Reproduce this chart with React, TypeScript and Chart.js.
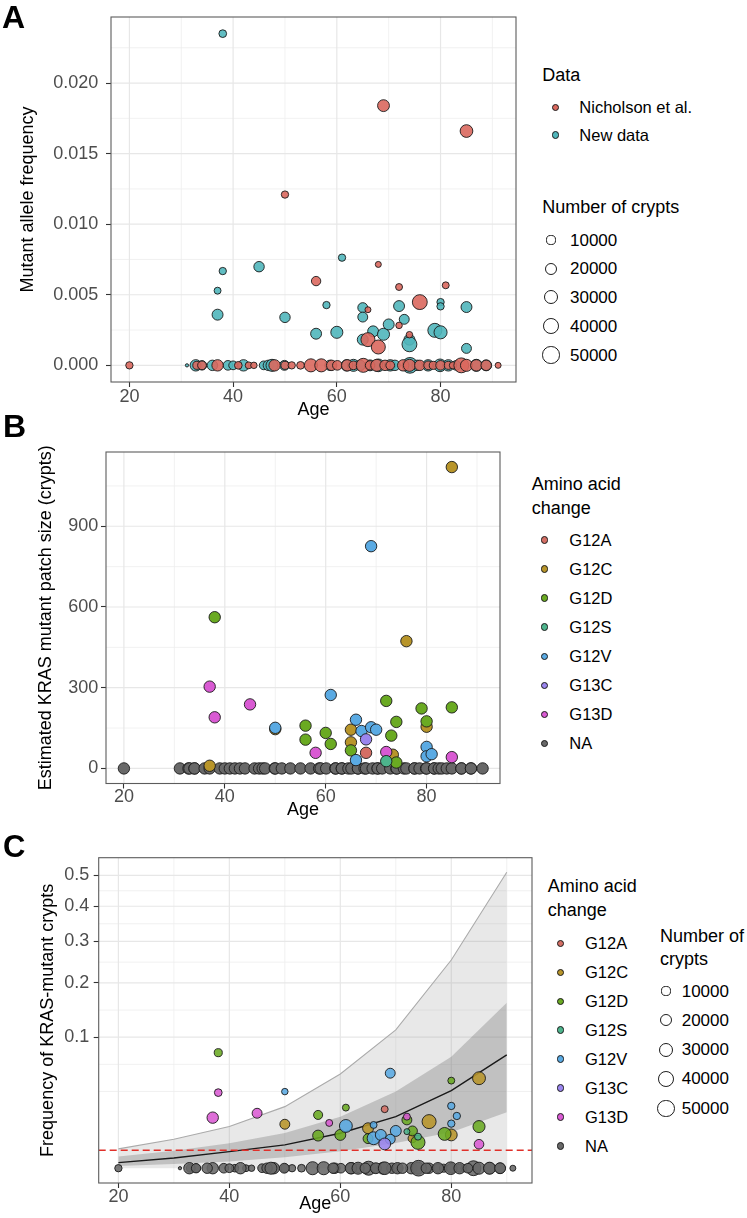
import React, { useEffect, useRef } from 'react';
import { Chart, registerables } from 'chart.js';

Chart.register(...registerables);

const FONT = "'Liberation Sans', Arial, Helvetica, sans-serif";

// ---------- shared axis data ----------
const ageBreaks = [20, 40, 60, 80];
const ageLimits = [16.45, 94.55];
const cryptBreaks = [10000, 20000, 30000, 40000, 50000];

// ---------- Panel A ----------
const mafBreaks = [0, 0.005, 0.01, 0.015, 0.02];
const mafLabels = ['0.000', '0.005', '0.010', '0.015', '0.020'];
const mafLimits = [-0.00118, 0.02468];
const sourceNames = ['Nicholson et al.', 'New data'];
// [age, mutant allele frequency, number of crypts]
const nicholsonMutant = [
  [69, 0.0184, 24000], [85, 0.0166, 28000], [50, 0.0121, 8000], [56, 0.00597, 14000],
  [68, 0.00715, 5000], [72, 0.00555, 7000], [81, 0.00567, 7000], [76, 0.00448, 40000],
  [66, 0.00394, 5000], [72, 0.00283, 6000], [74, 0.00217, 6000], [66, 0.00182, 35000],
  [68, 0.0013, 35000],
];
const newDataMutant = [
  [38, 0.0235, 9000], [38, 0.00668, 8000], [37, 0.00529, 7000], [37, 0.00359, 20000],
  [45, 0.00699, 18000], [50, 0.0034, 18000], [61, 0.00763, 8000], [58, 0.00427, 8000],
  [56, 0.00224, 20000], [60, 0.00234, 25000], [65, 0.00409, 16000], [65, 0.00342, 16000],
  [67, 0.00241, 20000], [69, 0.0022, 25000], [70, 0.0029, 20000], [72, 0.0042, 20000],
  [73, 0.00326, 16000], [74, 0.00182, 20000], [74, 0.00149, 40000], [65, 0.00182, 20000],
  [80, 0.00448, 8000], [80, 0.00418, 8000], [78.9, 0.00248, 35000], [80, 0.00234, 30000],
  [85, 0.00413, 20000], [85, 0.0012, 16000],
];
// [age, number of crypts] for samples with no detected mutation
const nicholsonZero = [
  [20, 8000], [33, 10000], [34, 12000], [37, 22000], [41, 9000], [43, 7000], [44, 6000],
  [48, 22000], [50, 10000], [51.3, 8000], [53, 9000], [55, 30000], [57, 30000], [59, 18000],
  [60.1, 15000], [62, 22000], [63.2, 12000], [65.1, 35000], [66.4, 14000], [67.7, 25000],
  [69.3, 18000], [70.3, 12000], [72.8, 22000], [74, 25000], [76, 18000], [77.6, 12000],
  [78.6, 10000], [80, 15000], [81.5, 10000], [82.4, 8000], [84, 40000], [85, 25000],
  [86.9, 22000], [88.8, 18000], [91.1, 5000],
];
const newDataZero = [
  [31.1, 1500], [32.8, 22000], [34, 14000], [36, 18000], [39, 15000], [40, 12000], [42, 22000],
  [45.9, 12000], [46.8, 18000], [47.5, 25000], [49.9, 16000], [58.7, 18000], [61.9, 22000],
  [63.2, 25000], [64.5, 18000], [66.4, 20000], [68, 28000], [70.3, 22000], [71.2, 18000],
  [74.1, 45000], [75.5, 18000], [77.6, 22000], [79.9, 28000], [81.5, 22000], [83, 15000],
  [86.9, 25000], [88.8, 20000],
];

// ---------- Panel B ----------
const patchBreaks = [0, 300, 600, 900];
const patchLimits = [-56, 1176];
const aminoAcidChanges = ['G12A', 'G12C', 'G12D', 'G12S', 'G12V', 'G13C', 'G13D', 'NA'];
// [age, estimated patch size (crypts)]
const patchG12A = [[68, 58]];
const patchG12C = [[85, 1120], [76, 473], [50, 146], [65, 144], [65, 97], [73.3, 51], [80, 155], [37, 10]];
const patchG12D = [[38, 562], [56, 159], [56, 107], [60, 132], [61, 91], [65, 67], [72, 251], [73, 122], [74, 173], [74, 22], [79, 223], [80, 175], [85, 227]];
const patchG12S = [[72, 27]];
const patchG12V = [[69, 826], [50, 151], [61, 273], [66, 181], [66, 31], [67.1, 139], [69, 153], [70, 144], [80, 80], [80, 45], [81, 53]];
const patchG13C = [[68, 108]];
const patchG13D = [[37, 304], [38, 190], [45, 238], [58, 58], [72, 61], [85, 42]];

// ---------- Panel C ----------
const freqBreaks = [0.1, 0.2, 0.3, 0.4, 0.5];
const freqLabels = ['0.1', '0.2', '0.3', '0.4', '0.5'];
const freqLimitsSqrt = [-0.0357, 0.7496];
const modelAges = [20, 30, 40, 50, 60, 70, 80, 90];
const modelMean = [0.00018, 0.0006, 0.0016, 0.00316, 0.00714, 0.0155, 0.0351, 0.0748];
const modelInnerLow = [0.00003, 0.0001, 0.00027, 0.0007, 0.0017, 0.0037, 0.0075, 0.0183];
const modelInnerHigh = [0.0008, 0.0018, 0.0036, 0.0072, 0.0155, 0.0342, 0.0725, 0.1597];
const modelOuterHigh = [0.00217, 0.0049, 0.0101, 0.0221, 0.0518, 0.1114, 0.2527, 0.5102];
const detectionLimit = 0.00189;
// [age, frequency of mutant crypts, number of crypts]
const freqG12A = [[68, 0.0203, 7000]];
const freqG12C = [[50, 0.01127, 16000], [65, 0.0093, 20000], [73, 0.0052, 12000], [76, 0.01265, 35000], [80, 0.00646, 24000], [85, 0.0472, 29000]];
const freqG12D = [[38, 0.0778, 10000], [56, 0.01654, 13000], [56, 0.0062, 20000], [61, 0.0214, 7000], [60, 0.00646, 20000], [72, 0.0136, 16000], [65, 0.0051, 16000], [73, 0.0081, 16000], [74, 0.0039, 35000], [80, 0.0447, 7000], [78.8, 0.00685, 29000], [85, 0.0101, 25000]];
const freqG12S = [[72, 0.0078, 5000], [74, 0.0058, 7000]];
const freqG12V = [[50, 0.0342, 6000], [61, 0.0104, 29000], [69, 0.0526, 16000], [66, 0.0109, 7000], [70, 0.0081, 20000], [66, 0.00524, 29000], [67.3, 0.00646, 20000], [69, 0.0049, 16000], [80, 0.0226, 8000], [81, 0.0159, 8000], [80, 0.01158, 8000]];
const freqG13C = [[68, 0.00344, 24000]];
const freqG13D = [[38, 0.0333, 9000], [37, 0.0149, 22000], [45, 0.0176, 16000], [58, 0.01195, 7000], [72, 0.0155, 7000], [85, 0.00335, 15000]];

// ---------- styles ----------
const NICHOLSON_COLOR = '#DA685E';
const NEWDATA_COLOR = '#50B6BB';
const CHANGE_COLORS = ['#D46E64', '#B8952A', '#6AAA22', '#4DB48C', '#5AAAE3', '#9A85EE', '#D95AD3', '#686868'];
const EDGE = '#1a1a1a';
const TICK_SIZE = 18;
const TITLE_SIZE = 18;

function withAlpha(hex: string, a: number) {
  const n = parseInt(hex.slice(1), 16);
  return `rgba(${(n >> 16) & 255},${(n >> 8) & 255},${n & 255},${a})`;
}

function cryptRadius(c: number) {
  return 0.9 + 7.7 * Math.sqrt(Math.max(0, c - 1000) / 54000);
}

// ggplot-style minor breaks: midpoints between (extended) major breaks
function minorBreaks(b: number[], lim: number[]) {
  const bd = b[1] - b[0];
  const bb = [...b];
  if (lim[0] < bb[0]) bb.unshift(bb[0] - bd);
  if (lim[1] > bb[bb.length - 1]) bb.push(bb[bb.length - 1] + bd);
  const out: number[] = [];
  for (let i = 0; i < bb.length - 1; i++) out.push((bb[i] + bb[i + 1]) / 2);
  out.push(...bb);
  return out.filter((v) => v > lim[0] && v < lim[1] && !b.some((m) => Math.abs(m - v) < 1e-9));
}

function panelPlugin(grid: { xMajor: number[]; xMinor: number[]; yMajor: number[]; yMinor: number[] }) {
  return {
    id: 'panelDecor',
    beforeDatasetsDraw(chart: any) {
      const { ctx, chartArea: a, scales } = chart;
      ctx.save();
      ctx.beginPath();
      ctx.rect(a.left, a.top, a.right - a.left, a.bottom - a.top);
      ctx.clip();
      const draw = (vals: number[], vertical: boolean, w: number, col: string) => {
        ctx.lineWidth = w;
        ctx.strokeStyle = col;
        vals.forEach((v) => {
          ctx.beginPath();
          if (vertical) {
            const p = scales.x.getPixelForValue(v);
            ctx.moveTo(p, a.top);
            ctx.lineTo(p, a.bottom);
          } else {
            const p = scales.y.getPixelForValue(v);
            ctx.moveTo(a.left, p);
            ctx.lineTo(a.right, p);
          }
          ctx.stroke();
        });
      };
      draw(grid.xMinor, true, 0.8, '#eeeeee');
      draw(grid.yMinor, false, 0.8, '#eeeeee');
      draw(grid.xMajor, true, 1.2, '#e7e7e7');
      draw(grid.yMajor, false, 1.2, '#e7e7e7');
      ctx.restore();
    },
    afterDatasetsDraw(chart: any) {
      const { ctx, chartArea: a } = chart;
      ctx.save();
      ctx.strokeStyle = '#5c5c5c';
      ctx.lineWidth = 1.1;
      ctx.strokeRect(a.left, a.top, a.right - a.left, a.bottom - a.top);
      ctx.restore();
    },
  };
}

function ageAxis(height: number, tickPad: number, titlePad: number) {
  return {
    type: 'linear',
    position: 'bottom',
    min: ageLimits[0],
    max: ageLimits[1],
    afterBuildTicks: (s: any) => {
      s.ticks = ageBreaks.map((v) => ({ value: v }));
    },
    afterFit: (s: any) => {
      s.height = height;
    },
    grid: { drawOnChartArea: false, drawTicks: true, tickLength: 5, tickColor: '#333333', tickWidth: 1.1 },
    border: { display: false },
    ticks: {
      color: '#4d4d4d',
      padding: tickPad,
      autoSkip: false,
      maxRotation: 0,
      font: { family: FONT, size: TICK_SIZE, lineHeight: 1 },
      callback: (v: number) => String(v),
    },
    title: {
      display: true,
      text: 'Age',
      color: '#000000',
      font: { family: FONT, size: TITLE_SIZE, lineHeight: 1 },
      padding: { top: 0, bottom: titlePad },
    },
  };
}

function valueAxis(o: { min: number; max: number; breaks: number[]; labels: string[]; width: number; tickPad: number; title: string; titlePad: number }) {
  return {
    type: 'linear',
    position: 'left',
    min: o.min,
    max: o.max,
    afterBuildTicks: (s: any) => {
      s.ticks = o.breaks.map((v) => ({ value: v }));
    },
    afterFit: (s: any) => {
      s.width = o.width;
    },
    grid: { drawOnChartArea: false, drawTicks: true, tickLength: 5, tickColor: '#333333', tickWidth: 1.1 },
    border: { display: false },
    ticks: {
      color: '#4d4d4d',
      padding: o.tickPad,
      autoSkip: false,
      font: { family: FONT, size: TICK_SIZE, lineHeight: 1 },
      callback: (_v: number, i: number) => o.labels[i],
    },
    title: {
      display: true,
      text: o.title,
      color: '#000000',
      font: { family: FONT, size: TITLE_SIZE, lineHeight: 1 },
      padding: { top: o.titlePad, bottom: 0 },
    },
  };
}

function pointSet(label: string, data: any[], color: string, alpha: number, order: number, fixedRadius?: number) {
  const radius = (ctx: any) => (fixedRadius ? fixedRadius : ctx.raw && ctx.raw.c ? cryptRadius(ctx.raw.c) : 3);
  return {
    label,
    data,
    order,
    showLine: false,
    pointBackgroundColor: withAlpha(color, alpha),
    pointBorderColor: EDGE,
    pointBorderWidth: 0.9,
    pointRadius: radius,
    pointHoverRadius: radius,
  };
}

const baseOptions = (padTop: number, padRight: number) => ({
  responsive: false,
  animation: false,
  events: [],
  layout: { padding: { left: 0, top: padTop, right: padRight, bottom: 0 } },
  plugins: { legend: { display: false }, tooltip: { enabled: false } },
});

function buildA() {
  const mut = (arr: number[][]) => arr.map(([x, y, c]) => ({ x, y, c }));
  const zero = (arr: number[][]) => arr.map(([x, c]) => ({ x, y: 0, c }));
  return {
    type: 'scatter',
    data: {
      datasets: [
        pointSet(sourceNames[1], zero(newDataZero), NEWDATA_COLOR, 0.9, 4),
        pointSet(sourceNames[0], zero(nicholsonZero), NICHOLSON_COLOR, 0.9, 3),
        pointSet(sourceNames[1], mut(newDataMutant), NEWDATA_COLOR, 0.9, 2),
        pointSet(sourceNames[0], mut(nicholsonMutant), NICHOLSON_COLOR, 0.9, 1),
      ],
    },
    options: {
      ...baseOptions(17, 14),
      scales: {
        x: ageAxis(48, 1.5, 10.5),
        y: valueAxis({ min: mafLimits[0], max: mafLimits[1], breaks: mafBreaks, labels: mafLabels, width: 111, tickPad: 7.7, title: 'Mutant allele frequency', titlePad: 19.3 }),
      },
    },
    plugins: [panelPlugin({ xMajor: ageBreaks, xMinor: minorBreaks(ageBreaks, ageLimits), yMajor: mafBreaks, yMinor: minorBreaks(mafBreaks, mafLimits) })],
  };
}

function buildB() {
  const groups = [patchG12A, patchG12C, patchG12D, patchG12S, patchG12V, patchG13C, patchG13D];
  const drawOrder = [3, 7, 6, 2, 4, 1, 5];
  const naAges = [...nicholsonZero, ...newDataZero].map(([a]) => a).sort((p, q) => p - q);
  const datasets: any[] = [
    pointSet('NA', naAges.map((x) => ({ x, y: 0 })), CHANGE_COLORS[7], 1, 10, 5.7),
  ];
  groups.forEach((g, i) => {
    datasets.push(pointSet(aminoAcidChanges[i], g.map(([x, y]) => ({ x, y })), CHANGE_COLORS[i], 1, drawOrder[i], 5.7));
  });
  return {
    type: 'scatter',
    data: { datasets },
    options: {
      ...baseOptions(22, 20),
      scales: {
        x: ageAxis(46.5, 0, 10.5),
        y: valueAxis({ min: patchLimits[0], max: patchLimits[1], breaks: patchBreaks, labels: patchBreaks.map(String), width: 106, tickPad: 2.7, title: 'Estimated KRAS mutant patch size (crypts)', titlePad: 37.3 }),
      },
    },
    plugins: [panelPlugin({ xMajor: ageBreaks, xMinor: minorBreaks(ageBreaks, ageLimits), yMajor: patchBreaks, yMinor: minorBreaks(patchBreaks, patchLimits) })],
  };
}

function buildC() {
  const sq = Math.sqrt;
  const curve = (vals: number[]) => modelAges.map((x, i) => ({ x, y: sq(vals[i]) }));
  const groups = [freqG12A, freqG12C, freqG12D, freqG12S, freqG12V, freqG13C, freqG13D];
  const drawOrder = [3, 7, 6, 2, 4, 1, 5];
  const naPoints = [...nicholsonZero, ...newDataZero].map(([x, c]) => ({ x, y: 0, c }));
  const line = (label: string, data: any[], extra: any) => ({
    label,
    data,
    showLine: true,
    pointRadius: 0,
    pointHoverRadius: 0,
    tension: 0,
    ...extra,
  });
  const datasets: any[] = [
    line('outer', curve(modelOuterHigh), { order: 30, borderColor: '#ababab', borderWidth: 1.1, fill: 'origin', backgroundColor: 'rgba(140,140,140,0.2)' }),
    line('innerHigh', curve(modelInnerHigh), { order: 29, borderWidth: 0, borderColor: 'rgba(0,0,0,0)', fill: '+1', backgroundColor: 'rgba(90,90,90,0.27)' }),
    line('innerLow', curve(modelInnerLow), { order: 28, borderWidth: 0, borderColor: 'rgba(0,0,0,0)', fill: false }),
    line('mean', curve(modelMean), { order: 27, borderColor: '#1a1a1a', borderWidth: 1.4, fill: false }),
    line('limit', ageLimits.map((x) => ({ x, y: sq(detectionLimit) })), { order: 26, borderColor: '#E0302A', borderWidth: 1.6, borderDash: [7, 4], fill: false }),
    pointSet('NA', naPoints, CHANGE_COLORS[7], 0.88, 20),
  ];
  groups.forEach((g, i) => {
    datasets.push(pointSet(aminoAcidChanges[i], g.map(([x, f, c]) => ({ x, y: sq(f), c })), CHANGE_COLORS[i], 0.88, drawOrder[i]));
  });
  const sqrtBreaks = freqBreaks.map(sq);
  return {
    type: 'scatter',
    data: { datasets },
    options: {
      ...baseOptions(27.7, 15),
      scales: {
        x: ageAxis(35, 0.5, 5.2),
        y: valueAxis({ min: freqLimitsSqrt[0], max: freqLimitsSqrt[1], breaks: sqrtBreaks, labels: freqLabels, width: 98.7, tickPad: 4.4, title: 'Frequency of KRAS-mutant crypts', titlePad: 39 }),
      },
    },
    plugins: [panelPlugin({ xMajor: ageBreaks, xMinor: minorBreaks(ageBreaks, ageLimits), yMajor: sqrtBreaks, yMinor: minorBreaks(sqrtBreaks, freqLimitsSqrt) })],
  };
}

function ChartCanvas(props: { left: number; top: number; width: number; height: number; build: () => any }) {
  const ref = useRef<HTMLCanvasElement>(null);
  useEffect(() => {
    const chart = new Chart(ref.current as HTMLCanvasElement, props.build());
    return () => chart.destroy();
  }, []);
  return (
    <canvas
      ref={ref}
      width={props.width}
      height={props.height}
      style={{ position: 'absolute', left: props.left, top: props.top, width: props.width, height: props.height }}
    />
  );
}

function Txt(props: { x: number; baseline: number; size: number; bold?: boolean; children: any }) {
  return (
    <div
      style={{
        position: 'absolute',
        left: props.x,
        top: props.baseline - 0.8465 * props.size,
        fontSize: props.size,
        lineHeight: `${props.size}px`,
        fontWeight: props.bold ? 700 : 400,
        whiteSpace: 'nowrap',
        color: '#000',
      }}
    >
      {props.children}
    </div>
  );
}

function Dot(props: { cx: number; cy: number; r: number; fill: string }) {
  const d = props.r * 2;
  return (
    <div
      style={{
        position: 'absolute',
        left: props.cx - props.r,
        top: props.cy - props.r,
        width: d,
        height: d,
        borderRadius: '50%',
        background: props.fill,
        border: `1px solid ${EDGE}`,
        boxSizing: 'border-box',
      }}
    />
  );
}

function ChangeLegend(props: { x: number; titleBaseline: number; y0: number; step: number; keyX: number; labelX: number }) {
  return (
    <>
      <Txt x={props.x} baseline={props.titleBaseline} size={18}>Amino acid</Txt>
      <Txt x={props.x} baseline={props.titleBaseline + 24} size={18}>change</Txt>
      {aminoAcidChanges.map((name, i) => (
        <React.Fragment key={name}>
          <Dot cx={props.keyX} cy={props.y0 + i * props.step} r={3.7} fill={CHANGE_COLORS[i]} />
          <Txt x={props.labelX} baseline={props.y0 + i * props.step + 5.9} size={16.5}>{name}</Txt>
        </React.Fragment>
      ))}
    </>
  );
}

function SizeLegend(props: { x: number; titleLines: string[]; titleBaseline: number; ys: number[]; keyX: number; labelX: number }) {
  return (
    <>
      {props.titleLines.map((t, i) => (
        <Txt key={t} x={props.x} baseline={props.titleBaseline + i * 22.8} size={18}>{t}</Txt>
      ))}
      {cryptBreaks.map((c, i) => (
        <React.Fragment key={c}>
          <Dot cx={props.keyX} cy={props.ys[i]} r={cryptRadius(c) + 0.5} fill="rgba(255,255,255,0)" />
          <Txt x={props.labelX} baseline={props.ys[i] + 6.1} size={17}>{String(c)}</Txt>
        </React.Fragment>
      ))}
    </>
  );
}

export default function App() {
  return (
    <div
      style={{
        position: 'absolute',
        left: 0,
        top: 0,
        width: 747,
        height: 1218,
        background: '#ffffff',
        fontFamily: FONT,
        overflow: 'hidden',
      }}
    >
      <ChartCanvas left={0} top={0} width={530} height={430} build={buildA} />
      <ChartCanvas left={0} top={430} width={520} height={400} build={buildB} />
      <ChartCanvas left={0} top={830} width={547} height={388} build={buildC} />

      <Txt x={2} baseline={28} size={32} bold>A</Txt>
      <Txt x={3} baseline={437} size={32} bold>B</Txt>
      <Txt x={3} baseline={857} size={31} bold>C</Txt>

      {/* Panel A legends */}
      <Txt x={542.3} baseline={81} size={18}>Data</Txt>
      <Dot cx={555.7} cy={107.3} r={3.8} fill={NICHOLSON_COLOR} />
      <Txt x={579.3} baseline={113.2} size={16.5}>{sourceNames[0]}</Txt>
      <Dot cx={555.7} cy={135} r={3.8} fill={NEWDATA_COLOR} />
      <Txt x={579.3} baseline={140.9} size={16.5}>{sourceNames[1]}</Txt>
      <SizeLegend x={542.3} titleLines={['Number of crypts']} titleBaseline={212.9} ys={[240, 268.7, 297.3, 326, 355]} keyX={551} labelX={570} />

      {/* Panel B legend */}
      <ChangeLegend x={531.7} titleBaseline={489.8} y0={540} step={29.05} keyX={544.7} labelX={569.3} />

      {/* Panel C legends */}
      <ChangeLegend x={547.7} titleBaseline={892.7} y0={943.3} step={28.96} keyX={560.7} labelX={585} />
      <SizeLegend x={660} titleLines={['Number of', 'crypts']} titleBaseline={942.7} ys={[991, 1020.3, 1049.7, 1078.7, 1108.7]} keyX={666} labelX={681.7} />
    </div>
  );
}
